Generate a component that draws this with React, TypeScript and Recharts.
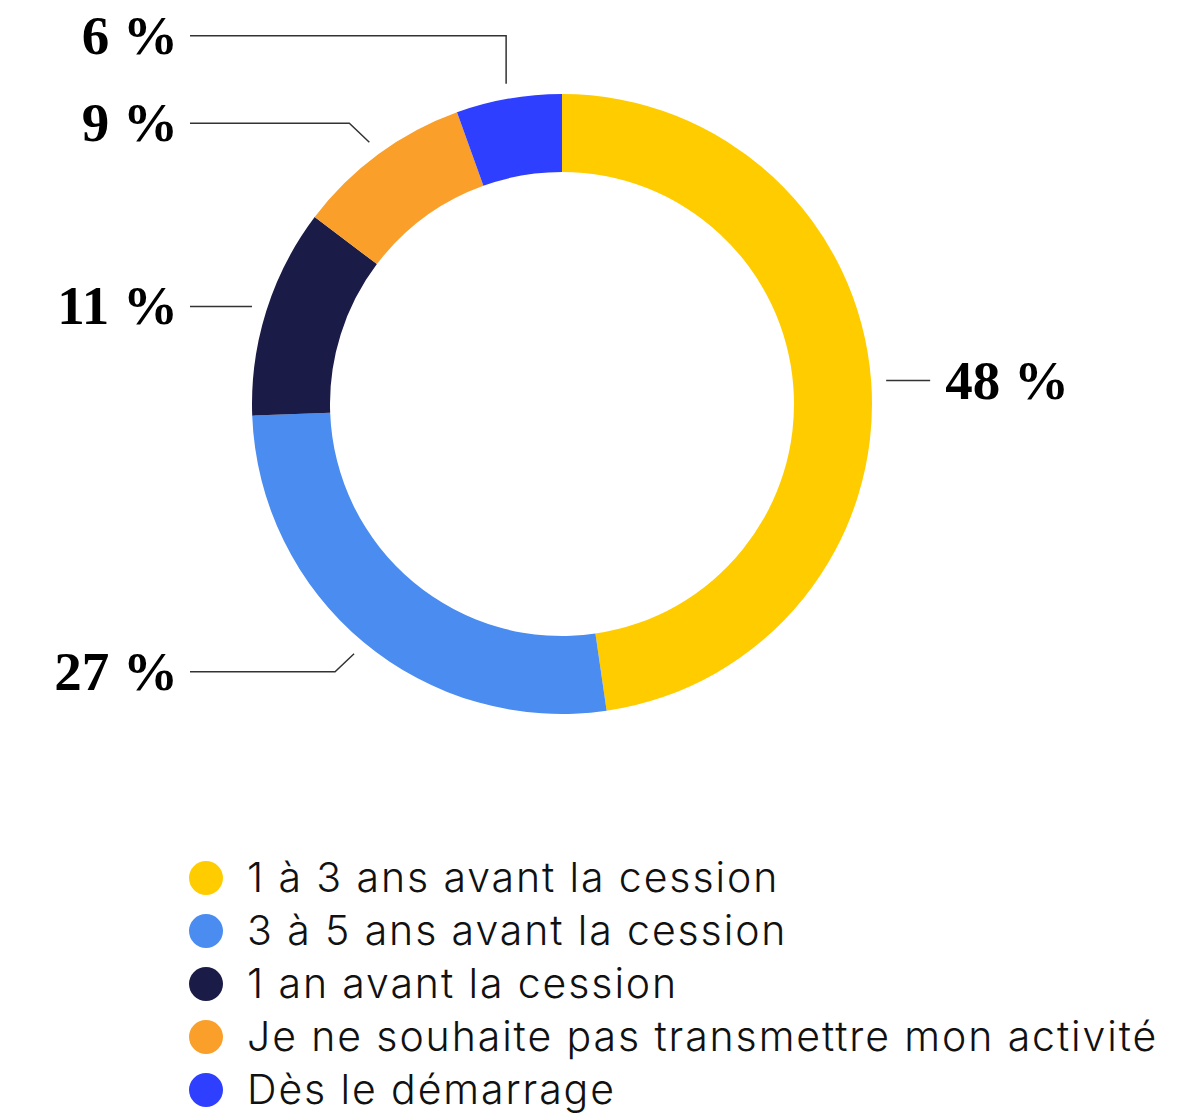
import { PieChart, Pie, Cell, Legend } from 'recharts';

const categories = [
  '1 à 3 ans avant la cession',
  '3 à 5 ans avant la cession',
  '1 an avant la cession',
  'Je ne souhaite pas transmettre mon activité',
  'Dès le démarrage',
];
const shares = [47.7, 26.7, 10.9, 9.2, 5.5];
const colors = ['#FFCC00', '#4A8CF0', '#1B1B47', '#F99F2A', '#2F3FFF'];

// elbow of each leader line, relative to the point just outside the ring
const elbows = [
  [0, 0],
  [-19, 18],
  [0, 0],
  [-20, -19],
  [0, -48],
];

const data = categories.map((name, i) => ({ name, value: shares[i] }));

const RAD = Math.PI / 180;

function renderLabel(props: any) {
  const { cx, cy, midAngle, outerRadius, index, value } = props;
  const r = outerRadius + 15;
  const sx = cx + r * Math.cos(-midAngle * RAD);
  const sy = cy + r * Math.sin(-midAngle * RAD);
  const [dx, dy] = elbows[index];
  const ex = sx + dx;
  const ey = sy + dy;
  const right = sx > cx;
  const endX = right ? ex + 44 : cx - 372;
  const text = `${Math.round(value)} %`;
  return (
    <g>
      <polyline
        points={`${sx},${sy} ${ex},${ey} ${endX},${ey}`}
        fill="none"
        stroke="#333"
        strokeWidth={1.5}
      />
      <text
        x={right ? endX + 15 : endX - 12}
        y={ey + 18}
        textAnchor={right ? 'start' : 'end'}
        fontFamily="'Liberation Serif', serif"
        fontWeight="bold"
        fontSize={55}
        fill="#000"
      >
        {text}
      </text>
    </g>
  );
}

function renderLegend() {
  return (
    <div
      style={{
        fontFamily: 'Inter, sans-serif',
        fontWeight: 300,
        fontSize: 41,
        letterSpacing: 1.9,
        color: '#111',
      }}
    >
      {categories.map((c, i) => (
        <div key={c} style={{ display: 'flex', alignItems: 'center', height: 53 }}>
          <span
            style={{
              display: 'inline-block',
              width: 34,
              height: 34,
              borderRadius: '50%',
              background: colors[i],
              marginRight: 24,
            }}
          />
          <span style={{ lineHeight: '53px', whiteSpace: 'nowrap' }}>{c}</span>
        </div>
      ))}
    </div>
  );
}

export default function App() {
  return (
    <div style={{ position: 'absolute', left: 0, top: 0, width: 1184, height: 1115, background: '#fff' }}>
      <PieChart width={1184} height={1115} margin={{ top: 0, right: 0, bottom: 0, left: 0 }}>
        <Pie
          data={data}
          dataKey="value"
          nameKey="name"
          cx={562}
          cy={404}
          innerRadius={232}
          outerRadius={310}
          startAngle={90}
          endAngle={-270}
          stroke="none"
          label={renderLabel}
          labelLine={false}
          isAnimationActive={false}
        >
          {data.map((d, i) => (
            <Cell key={d.name} fill={colors[i]} />
          ))}
        </Pie>
        <Legend
          content={renderLegend}
          wrapperStyle={{ position: 'absolute', left: 189, top: 851, width: 990, bottom: 'auto' }}
        />
      </PieChart>
    </div>
  );
}
